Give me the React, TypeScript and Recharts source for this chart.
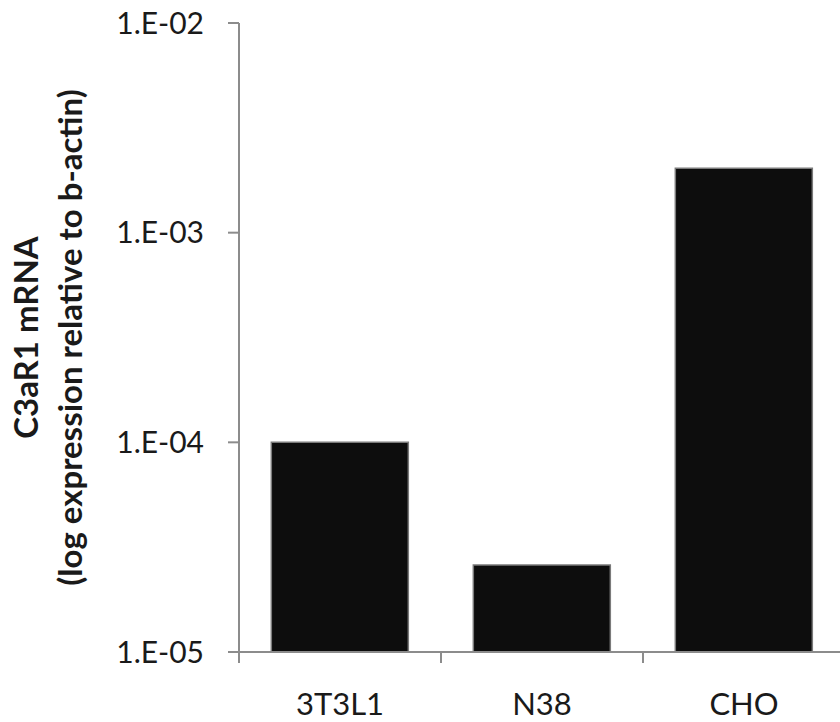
import React from "react"
import { BarChart, Bar, XAxis, YAxis } from "recharts"

const categories = ["3T3L1", "N38", "CHO"]
const expression = [1.0e-4, 2.6e-5, 2.03e-3]
const yTicks = [1e-5, 1e-4, 1e-3, 1e-2]
const yTickLabels = ["1.E-05", "1.E-04", "1.E-03", "1.E-02"]
const yTitle = ["C3aR1 mRNA", "(log expression relative to b-actin)"]

const data = categories.map((name, i) => ({ name, value: expression[i] }))

const W = 850
const H = 722
const AXIS_W = 239
const RIGHT = 5
const band = (W - AXIS_W - RIGHT) / categories.length
const font = "Lato, 'Open Sans', sans-serif"
const axisGray = "#8c8c8c"
const textColor = "#1a1a1a"

const XTick = ({ x, y, payload }: any) => (
  <g>
    <line x1={x - band / 2} x2={x - band / 2} y1={y} y2={y + 11} stroke={axisGray} strokeWidth={2} />
    <text x={x} y={y} dy={63} textAnchor="middle" fontSize={31} fill={textColor} fontFamily={font}>
      {payload.value}
    </text>
  </g>
)

const YTitle = ({ viewBox }: any) => {
  const top = viewBox?.y ?? 23
  const h = viewBox?.height ?? 629
  const cy = top + h / 2
  return (
    <g fontFamily={font} fontWeight="bold" fontSize={33} fill={textColor}>
      <text x={25} y={cy} transform={`rotate(-90, 25, ${cy})`} textAnchor="middle" dominantBaseline="central">
        {yTitle[0]}
      </text>
      <text x={69} y={cy} transform={`rotate(-90, 69, ${cy})`} textAnchor="middle" dominantBaseline="central">
        {yTitle[1]}
      </text>
    </g>
  )
}

export default function App() {
  return (
    <div style={{ position: "fixed", top: 0, left: 0, width: 840, height: 722, overflow: "hidden", background: "#fff" }}>
      <BarChart width={W} height={H} data={data} margin={{ top: 23, right: RIGHT, bottom: 0, left: 0 }} barCategoryGap="16%">
        <XAxis
          dataKey="name"
          height={70}
          axisLine={{ stroke: axisGray, strokeWidth: 2 }}
          tickLine={false}
          tickSize={0}
          tickMargin={0}
          tick={<XTick />}
          interval={0}
        />
        <YAxis
          scale="log"
          domain={[1e-5, 1e-2]}
          ticks={yTicks}
          allowDataOverflow
          width={AXIS_W}
          tickSize={11}
          tickMargin={24}
          axisLine={{ stroke: axisGray, strokeWidth: 2 }}
          tickLine={{ stroke: axisGray, strokeWidth: 2 }}
          tick={{ fontSize: 30, fill: textColor, fontFamily: font }}
          tickFormatter={(v: number) => yTickLabels[yTicks.indexOf(v)] ?? ""}
          label={<YTitle />}
        />
        <Bar dataKey="value" fill="#0d0d0d" stroke="#7a7a7a" strokeWidth={1.5} isAnimationActive={false} />
      </BarChart>
    </div>
  )
}
